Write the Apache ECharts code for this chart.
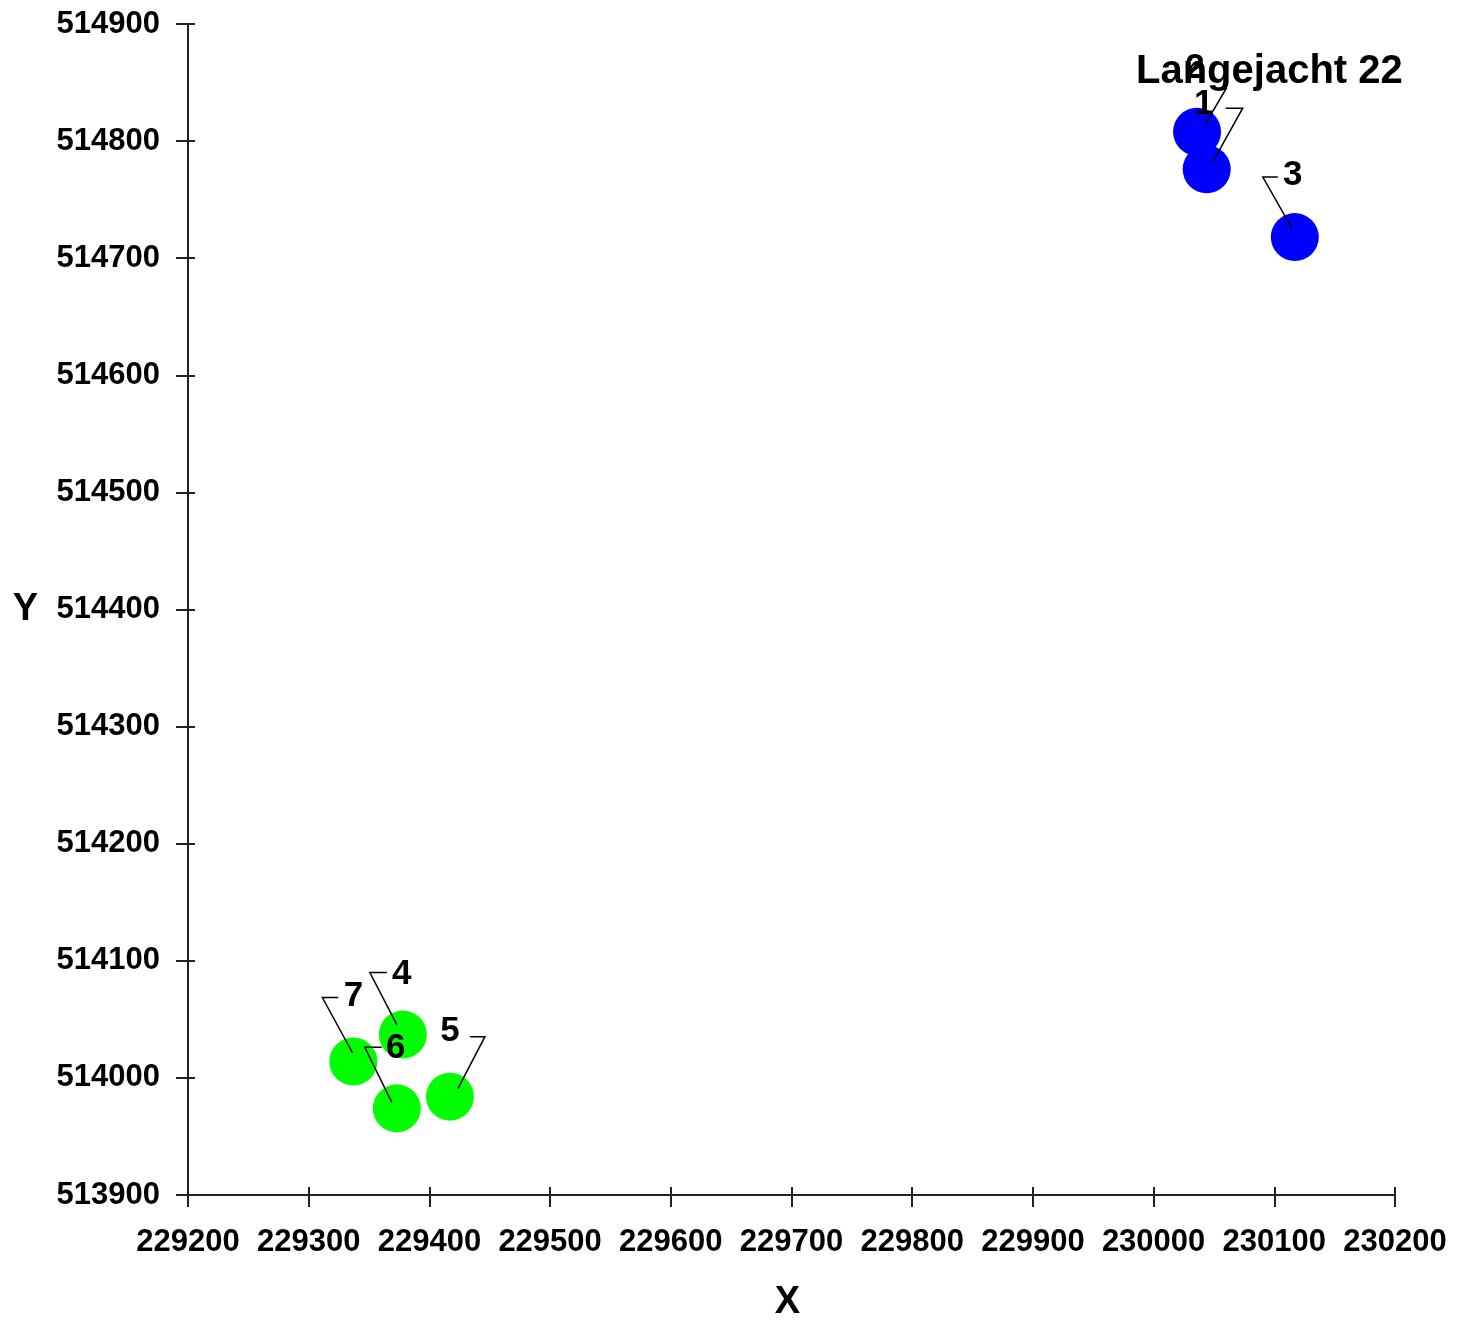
<!DOCTYPE html>
<html><head><meta charset="utf-8">
<script src="https://cdn.jsdelivr.net/npm/echarts@6/dist/echarts.min.js"></script>
<style>html,body{margin:0;padding:0;background:#fff}#c{width:1468px;height:1321px}</style>
</head><body><div id="c"></div>
<script>
// ---- data ----
const groupTitle = 'Langejacht 22';
const blueNames = ['1', '2', '3'];
const blueX = [230044, 230036, 230117];
const blueY = [514776, 514808, 514718];
const greenNames = ['4', '5', '6', '7'];
const greenX = [229378, 229417, 229373, 229337];
const greenY = [514037, 513984, 513974, 514014];
const xTicks = [229200, 229300, 229400, 229500, 229600, 229700, 229800, 229900, 230000, 230100, 230200];
const yTicks = [513900, 514000, 514100, 514200, 514300, 514400, 514500, 514600, 514700, 514800, 514900];
const xName = 'X';
const yName = 'Y';

// ---- label / leader styling (pixel offsets from point centre) ----
const leaderStyle = {
  '1': { label: [-3, -65], path: [[6, -7], [36, -61], [19, -61]] },
  '2': { label: [-2, -63], path: [[8, -7], [29, -43], [19, -43]] },
  '3': { label: [-2, -62], path: [[-3, -9], [-32, -60], [-17, -60]] },
  '4': { label: [-1, -60], path: [[-6, -10], [-33, -62], [-16, -62]] },
  '5': { label: [0, -65], path: [[8, -8], [35, -60], [20, -60]] },
  '6': { label: [-1, -60], path: [[-5, -6], [-32, -61], [-15, -61]] },
  '7': { label: [0, -65], path: [[-1, -9], [-31, -64], [-15, -64]] }
};

const FONT = '"Liberation Sans", Arial, sans-serif';
const blueData = blueX.map((x, i) => [x, blueY[i], blueNames[i]]);
const greenData = greenX.map((x, i) => [x, greenY[i], greenNames[i]]);
const allData = blueData.concat(greenData);

const xMin = xTicks[0], xMax = xTicks[xTicks.length - 1];
const yMin = yTicks[0], yMax = yTicks[yTicks.length - 1];
const step = xTicks[1] - xTicks[0];
const ystep = yTicks[1] - yTicks[0];

const labelStyle = { fontFamily: FONT, fontWeight: 'bold', fontSize: 31, color: '#000' };

const chart = echarts.init(document.getElementById('c'), null, { renderer: 'canvas' });
chart.setOption({
  animation: false,
  backgroundColor: '#fff',
  title: {
    text: groupTitle, left: 1136, top: 52, padding: 0,
    textStyle: { fontFamily: FONT, fontWeight: 'bold', fontSize: 40, color: '#000' }
  },
  grid: { left: 188, right: 73, top: 24, bottom: 126, containLabel: false, outerBoundsMode: 'none' },
  xAxis: [
    {
      type: 'value', min: xMin, max: xMax, interval: step, position: 'bottom',
      name: xName, nameLocation: 'middle', nameGap: 89,
      nameTextStyle: { fontFamily: FONT, fontWeight: 'bold', fontSize: 38, color: '#000', padding: [0, 8, 0, 0] },
      axisLine: { show: true, onZero: false, lineStyle: { color: '#222', width: 2 } },
      axisTick: { show: true, inside: false, length: 12, lineStyle: { color: '#222', width: 2 } },
      axisLabel: Object.assign({ margin: 32, formatter: v => String(v) }, labelStyle),
      splitLine: { show: false }
    },
    {
      type: 'value', min: xMin, max: xMax, interval: step, position: 'bottom',
      axisLine: { show: false, onZero: false },
      axisTick: { show: true, inside: true, length: 8, lineStyle: { color: '#222', width: 2 } },
      axisLabel: { show: false }, splitLine: { show: false }
    }
  ],
  yAxis: [
    {
      type: 'value', min: yMin, max: yMax, interval: ystep, position: 'left',
      name: yName, nameLocation: 'middle', nameGap: 150, nameRotate: 0,
      nameTextStyle: { fontFamily: FONT, fontWeight: 'bold', fontSize: 38, color: '#000' },
      axisLine: { show: true, onZero: false, lineStyle: { color: '#222', width: 2 } },
      axisTick: { show: true, inside: false, length: 12, lineStyle: { color: '#222', width: 2 } },
      axisLabel: Object.assign({ margin: 28, formatter: v => String(v) }, labelStyle),
      splitLine: { show: false }
    },
    {
      type: 'value', min: yMin, max: yMax, interval: ystep, position: 'left',
      axisLine: { show: false, onZero: false },
      axisTick: { show: true, inside: true, length: 7, lineStyle: { color: '#222', width: 2 } },
      axisLabel: { show: false }, splitLine: { show: false }
    }
  ],
  series: [
    {
      type: 'scatter', name: groupTitle, xAxisIndex: 0, yAxisIndex: 0,
      data: blueData, symbol: 'circle', symbolSize: 48,
      itemStyle: { color: '#0000ff', opacity: 1 }, z: 2
    },
    {
      type: 'scatter', name: 'groen', xAxisIndex: 0, yAxisIndex: 0,
      data: greenData, symbol: 'circle', symbolSize: 48,
      itemStyle: { color: '#00ff00', opacity: 1 }, z: 2
    },
    {
      type: 'custom', xAxisIndex: 0, yAxisIndex: 0, z: 5, clip: false,
      data: allData,
      renderItem: function (params, api) {
        const c = api.coord([api.value(0), api.value(1)]);
        const name = allData[params.dataIndex][2];
        const L = leaderStyle[name];
        return {
          type: 'group',
          children: [
            {
              type: 'polyline',
              shape: { points: L.path.map(p => [c[0] + p[0], c[1] + p[1]]) },
              style: { stroke: '#000', lineWidth: 1.5, fill: null }
            },
            {
              type: 'text', x: c[0] + L.label[0], y: c[1] + L.label[1],
              style: {
                text: name, font: 'bold 35px ' + FONT, fill: '#000',
                align: 'center', verticalAlign: 'middle'
              }
            }
          ]
        };
      }
    }
  ]
});
</script>
</body></html>
